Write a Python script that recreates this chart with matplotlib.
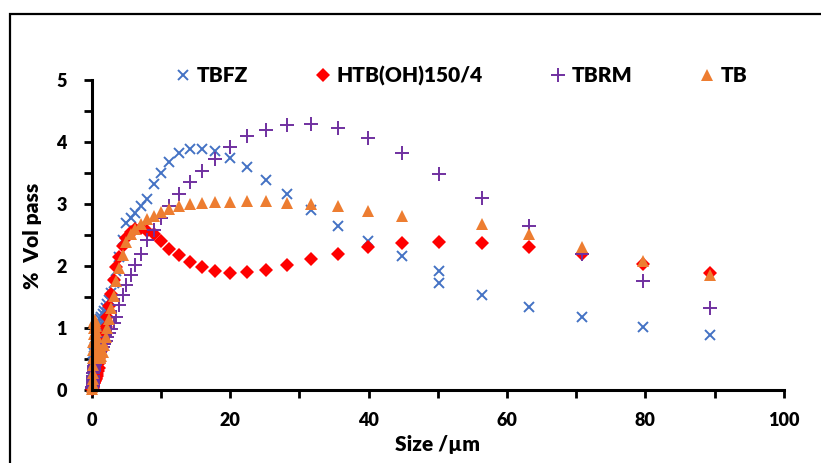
import numpy as np
import matplotlib
matplotlib.use("Agg")
import matplotlib.pyplot as plt
from matplotlib.patches import Rectangle

plt.rcParams['font.family'] = ['Lato', 'DejaVu Sans']
plt.rcParams['font.weight'] = 'heavy'

# particle size classes (um)
size_um = [0.10, 0.11, 0.13, 0.14, 0.16, 0.18, 0.20, 0.22, 0.25, 0.28,
           0.32, 0.35, 0.40, 0.45, 0.50, 0.56, 0.63, 0.71, 0.80, 0.89,
           1.00, 1.12, 1.26, 1.41, 1.59, 1.78, 2.00, 2.24, 2.52, 2.83,
           3.17, 3.56, 3.99, 4.48, 5.02, 5.64, 6.32, 7.10, 7.96, 8.93,
           10.0, 11.2, 12.6, 14.2, 15.9, 17.8, 20.0, 22.4, 25.2, 28.2,
           31.7, 35.6, 39.9, 44.8, 50.2, 56.4, 63.2, 70.9, 79.6, 89.3]

tbfz = [0.05, 0.10, 0.15, 0.20, 0.25, 0.30, 0.35, 0.40, 0.45, 0.50,
        0.55, 0.60, 0.65, 0.70, 0.75, 0.80, 0.85, 0.90, 0.95, 1.00,
        1.05, 1.10, 1.14, 1.18, 1.22, 1.27, 1.32, 1.38, 1.45, 1.56,
        1.72, 1.92, 2.15, 2.42, 2.69, 2.78, 2.86, 2.96, 3.08, 3.32,
        3.50, 3.67, 3.82, 3.89, 3.89, 3.86, 3.74, 3.59, 3.39, 3.16,
        2.90, 2.65, 2.40, 2.16, 1.92, 1.53, 1.34, 1.18, 1.02, 0.89]
# second reading at 50 um
tbfz_extra_x = [50.2]
tbfz_extra_y = [1.72]

htb = [0.02, 0.03, 0.04, 0.05, 0.06, 0.07, 0.08, 0.09, 0.10, 0.11,
       0.12, 0.13, 0.14, 0.15, 0.16, 0.18, 0.20, 0.22, 0.25, 0.30,
       0.36, 0.44, 0.53, 0.63, 0.75, 0.88, 1.02, 1.17, 1.35, 1.55,
       1.77, 1.98, 2.15, 2.32, 2.45, 2.55, 2.60, 2.61, 2.57, 2.52,
       2.41, 2.28, 2.17, 2.06, 1.98, 1.92, 1.88, 1.90, 1.94, 2.02,
       2.12, 2.20, 2.30, 2.37, 2.39, 2.37, 2.31, 2.20, 2.04, 1.88]

tbrm = [0.03, 0.05, 0.07, 0.10, 0.13, 0.16, 0.20, 0.23, 0.27, 0.30,
        0.33, 0.36, 0.39, 0.41, 0.43, 0.45, 0.47, 0.49, 0.51, 0.53,
        0.55, 0.58, 0.61, 0.65, 0.69, 0.74, 0.79, 0.85, 0.92, 0.99,
        1.08, 1.18, 1.37, 1.53, 1.69, 1.85, 2.02, 2.20, 2.42, 2.58,
        2.77, 2.97, 3.16, 3.35, 3.54, 3.72, 3.92, 4.09, 4.19, 4.27,
        4.29, 4.22, 4.06, 3.82, 3.49, 3.09, 2.65, 2.19, 1.75, 1.33]

tb = [0.02, 0.05, 0.10, 0.18, 0.28, 0.40, 0.52, 0.65, 0.78, 0.90,
      1.00, 1.08, 1.12, 1.13, 1.10, 1.03, 0.95, 0.85, 0.75, 0.65,
      0.58, 0.53, 0.52, 0.55, 0.62, 0.72, 0.85, 1.00, 1.15, 1.32,
      1.52, 1.75, 1.97, 2.18, 2.38, 2.52, 2.60, 2.68, 2.75, 2.81,
      2.87, 2.92, 2.96, 3.00, 3.02, 3.03, 3.04, 3.05, 3.05, 3.01,
      3.00, 2.96, 2.89, 2.80, np.nan, 2.67, 2.52, 2.31, 2.08, 1.85]

fig = plt.figure(figsize=(8.21, 4.63), dpi=100)
ax = fig.add_axes([0.1117, 0.1577, 0.8429, 0.6695])

ax.plot(size_um + tbfz_extra_x, tbfz + tbfz_extra_y, ls='none', marker='x',
        ms=7.5, mew=1.4, color='#4472C4', clip_on=False, label='TBFZ')
ax.plot(size_um, htb, ls='none', marker='D', ms=7, mew=0,
        color='#FF0000', clip_on=False, label='HTB(OH)150/4')
ax.plot(size_um, tbrm, ls='none', marker='+', ms=9.5, mew=1.4,
        color='#7030A0', clip_on=False, label='TBRM')
ax.plot(size_um, tb, ls='none', marker='^', ms=8.5, mew=0,
        color='#ED7D31', clip_on=False, label='TB')

ax.set_xlim(0, 100)
ax.set_ylim(0, 5)
ax.set_xticks(np.arange(0, 101, 20))
ax.set_xticks(np.arange(0, 101, 10), minor=True)
ax.set_yticks(np.arange(0, 6, 1))
ax.set_yticks(np.arange(0, 5.1, 0.5), minor=True)
ax.tick_params(which='both', direction='out', length=6, width=2, color='black')
ax.tick_params(axis='x', which='major', labelsize=13, pad=10)
ax.tick_params(axis='y', which='major', labelsize=13, pad=12)

for s in ['top', 'right']:
    ax.spines[s].set_visible(False)
for s in ['left', 'bottom']:
    ax.spines[s].set_linewidth(2.2)

ax.set_xlabel('Size /µm', fontsize=15, fontweight='heavy')
ax.set_ylabel('%  Vol pass', fontsize=15, fontweight='heavy')
ax.xaxis.set_label_coords(0.499, -0.145)
ax.yaxis.set_label_coords(-0.072, 0.497)

fig.legend(loc='center left', bbox_to_anchor=(0.213, 0.836), ncol=4,
           frameon=False, fontsize=15, handlelength=0.8, handletextpad=0.25,
           columnspacing=3.2, borderpad=0, borderaxespad=0)

# chart area border
fig.patches.append(Rectangle((10 / 821, -0.1), 1.2, 1.1 - 14 / 463,
                             transform=fig.transFigure, fill=False,
                             lw=1.6, edgecolor='black'))

fig.savefig('out.png', dpi=100)
